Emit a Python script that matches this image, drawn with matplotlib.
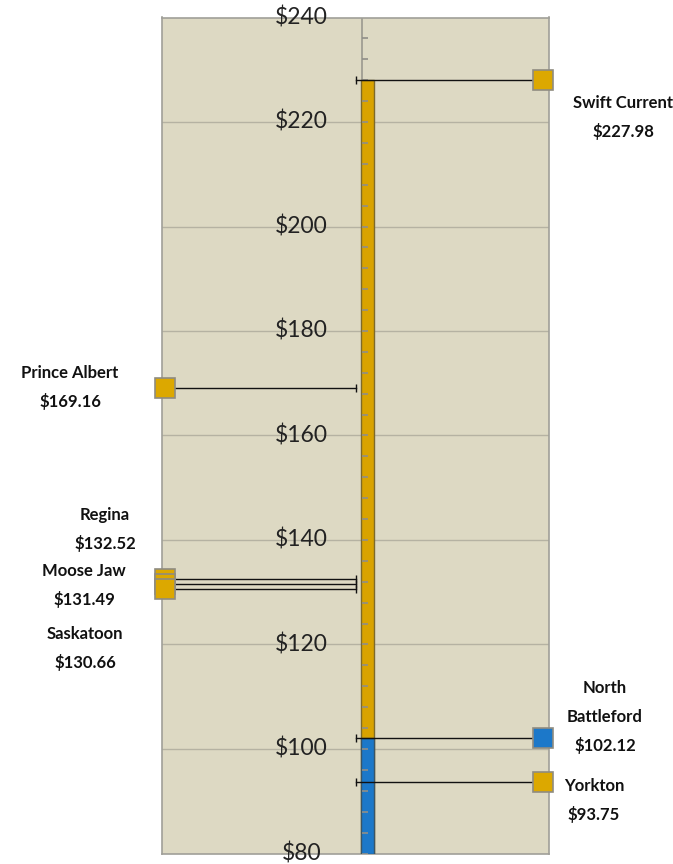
import numpy as np
import matplotlib
matplotlib.use("Agg")
import matplotlib.pyplot as plt

# data
cities = ['Swift Current', 'Prince Albert', 'Regina', 'Moose Jaw', 'Saskatoon',
          'North Battleford', 'Yorkton']
prices = [227.98, 169.16, 132.52, 131.49, 130.66, 102.12, 93.75]
sides = ['right', 'left', 'left', 'left', 'left', 'right', 'right']
highlight = 'North Battleford'
ticks = [80, 100, 120, 140, 160, 180, 200, 220, 240]

W, H = 673, 864
fig = plt.figure(figsize=(W / 100, H / 100), dpi=100)
fig.patch.set_facecolor('white')

# plot area in pixels
L, R, T, B = 162, 549, 17.5, 853.5
ax = fig.add_axes([L / W, 1 - B / H, (R - L) / W, (B - T) / H])
ax.set_facecolor('#ddd9c3')
ax.set_xlim(0, 1)
ax.set_ylim(80, 240)
ax.set_xticks([])
ax.set_yticks([])
for s in ax.spines.values():
    s.set_color('#a09f98')
    s.set_linewidth(1.2)

# gridlines
for t in ticks[1:-1]:
    ax.axhline(t, color='#b5b2a2', lw=1, zorder=1)

axis_x = 0.517
bar_x = 0.531
bar_w = 0.034
cap_x = 0.501
mark_x = {'left': 0.008, 'right': 0.984}

# thermometer bar: gold up to max price, blue for highlighted city
ax.bar(bar_x, max(prices) - 80, bottom=80, width=bar_w, color='#d9a300',
       edgecolor='#7d6a2a', lw=1.0, zorder=3)
hv = prices[cities.index(highlight)]
ax.bar(bar_x, hv - 80, bottom=80, width=bar_w, color='#1c78c9',
       edgecolor='#3a5566', lw=1.0, zorder=4)

# axis line and tick marks
ax.axvline(axis_x, color='#9a998f', lw=1.2, zorder=2)
minor = np.arange(80, 241, 4)
ax.hlines(minor, axis_x, axis_x + 0.016, color='#8f8e88', lw=1.2, zorder=5)

# tick labels
for t in ticks:
    ax.text(0.36, t, '$%d' % t, ha='center', va='center', fontsize=16.5,
            family='Lato', color='#222222', zorder=6, clip_on=False)

# leader lines with caps and markers
for c, p, s in zip(cities, prices, sides):
    mx = mark_x[s]
    ax.plot([mx, cap_x], [p, p], color='#111111', lw=1.0, zorder=5,
            clip_on=False)
    ax.plot([cap_x], [p], marker='|', ms=6, mew=1.0, color='#111111',
            zorder=5)
    fc = '#1c78c9' if c == highlight else '#dca800'
    ax.plot([mx], [p], marker='s', ms=14, mfc=fc, mec='#8f8c80', mew=1.2,
            zorder=7, clip_on=False)

# city labels (pixel layout: centre x, first line y)
label_pos = {
    'Swift Current': (623, 103, ['Swift Current', '$227.98']),
    'Prince Albert': (70, 373, ['Prince Albert', '$169.16']),
    'Regina': (105, 515, ['Regina', '$132.52']),
    'Moose Jaw': (84, 571, ['Moose Jaw', '$131.49']),
    'Saskatoon': (85, 634, ['Saskatoon', '$130.66']),
    'North Battleford': (605, 688, ['North', 'Battleford', '$102.12']),
    'Yorkton': (594, 786, ['Yorkton', '$93.75']),
}
for c, p in zip(cities, prices):
    x, y, lines = label_pos[c]
    for i, ln in enumerate(lines):
        fig.text(x / W, 1 - (y + i * 28.5) / H, ln, ha='center', va='center',
                 fontsize=12, fontweight='bold', family='Lato',
                 color='#111111')

fig.savefig('out.png', dpi=100)
